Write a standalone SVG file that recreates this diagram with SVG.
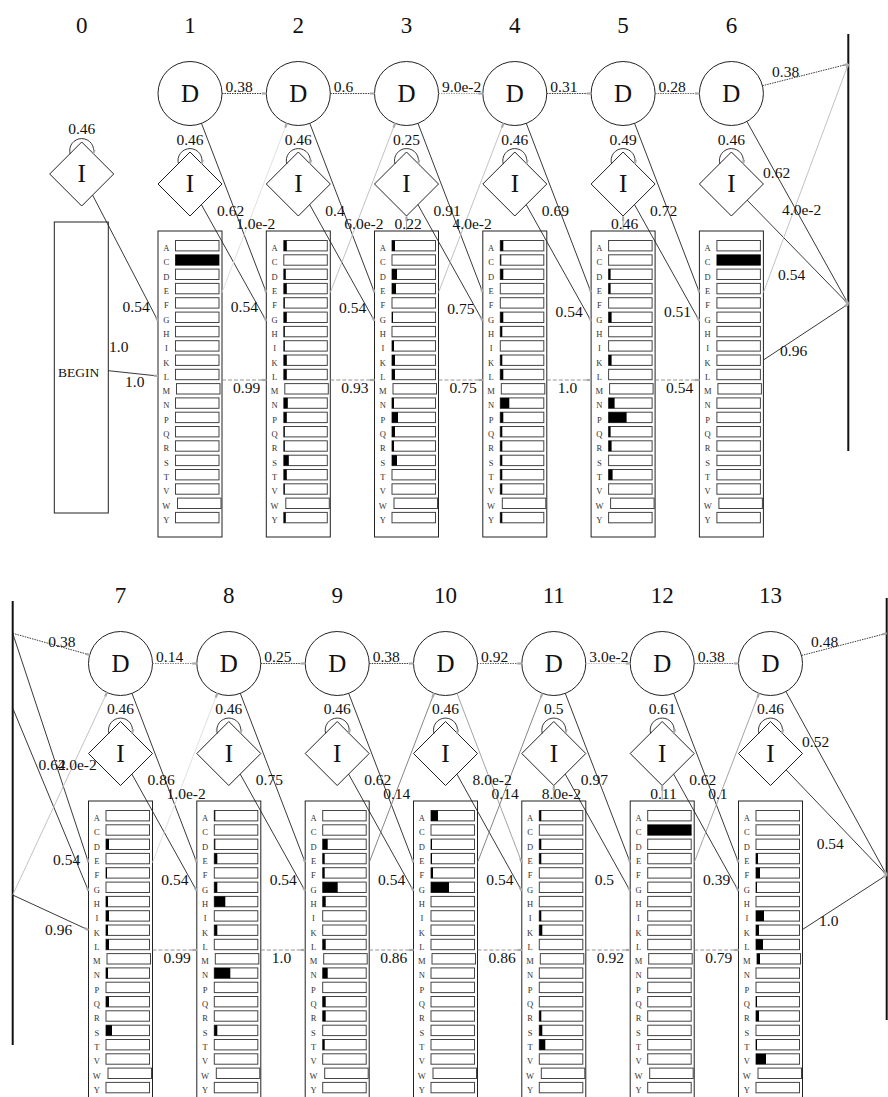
<svg xmlns="http://www.w3.org/2000/svg" xmlns:xlink="http://www.w3.org/1999/xlink" width="888" height="1097" viewBox="0 0 888 1097">
<style>
text{font-family:"Liberation Serif","Times New Roman",Times,"DejaVu Serif",serif}
.n{fill:#fff;stroke:#222;stroke-width:1}
.nt{font-size:25px;text-anchor:middle;fill:#111}
.num{font-size:23px;text-anchor:middle;fill:#111}
.l{font-size:15.5px;fill:#111}
.c{text-anchor:middle}
.a{font-size:8.5px;text-anchor:middle;fill:#333}
.bx{fill:#fff;stroke:#222;stroke-width:1}
.b{fill:#fff;stroke:#444;stroke-width:1}
.k{fill:#000}
.e{fill:none;stroke:#222;stroke-width:0.9;marker-end:url(#h)}
.dd{stroke-dasharray:1.5 1}
.mm{stroke:#888;stroke-dasharray:4 2}
.g1{stroke:#ddd}.g2{stroke:#bbb}.g3{stroke:#999}.g4{stroke:#777}.g5{stroke:#555}
.bar{stroke:#111;stroke-width:2;fill:none}
</style>
<defs>
<marker id="h" markerUnits="userSpaceOnUse" markerWidth="6" markerHeight="4" viewBox="-5 -2 6 4" refX="0" refY="0" orient="auto"><path d="M-4.5,0H0" stroke="#aaa" stroke-width="2.2" fill="none"/></marker>
<!-- match-state emission column: frame, residue letters and empty bars -->
<g id="mcol">
<rect class="bx" x="0" y="0" width="64" height="306"/>
<text class="a" x="8.3" y="20">A</text><text class="a" x="8.3" y="34.3">C</text><text class="a" x="8.3" y="48.6">D</text><text class="a" x="8.3" y="62.9">E</text><text class="a" x="8.3" y="77.2">F</text><text class="a" x="8.3" y="91.6">G</text><text class="a" x="8.3" y="105.9">H</text><text class="a" x="8.3" y="120.2">I</text><text class="a" x="8.3" y="134.5">K</text><text class="a" x="8.3" y="148.8">L</text><text class="a" x="8.3" y="163.1">M</text><text class="a" x="8.3" y="177.4">N</text><text class="a" x="8.3" y="191.7">P</text><text class="a" x="8.3" y="206">Q</text><text class="a" x="8.3" y="220.3">R</text><text class="a" x="8.3" y="234.7">S</text><text class="a" x="8.3" y="249">T</text><text class="a" x="8.3" y="263.3">V</text><text class="a" x="8.3" y="277.6">W</text><text class="a" x="8.3" y="291.9">Y</text>
<rect class="b" x="17.5" y="9.5" width="43.5" height="10.4"/><rect class="b" x="17.5" y="23.8" width="43.5" height="10.4"/><rect class="b" x="17.5" y="38.1" width="43.5" height="10.4"/><rect class="b" x="17.5" y="52.4" width="43.5" height="10.4"/><rect class="b" x="17.5" y="66.7" width="43.5" height="10.4"/><rect class="b" x="17.5" y="81.1" width="43.5" height="10.4"/><rect class="b" x="17.5" y="95.4" width="43.5" height="10.4"/><rect class="b" x="17.5" y="109.7" width="43.5" height="10.4"/><rect class="b" x="17.5" y="124" width="43.5" height="10.4"/><rect class="b" x="17.5" y="138.3" width="43.5" height="10.4"/><rect class="b" x="18.5" y="152.6" width="43.5" height="10.4"/><rect class="b" x="17.5" y="166.9" width="43.5" height="10.4"/><rect class="b" x="17.5" y="181.2" width="43.5" height="10.4"/><rect class="b" x="17.5" y="195.5" width="43.5" height="10.4"/><rect class="b" x="17.5" y="209.8" width="43.5" height="10.4"/><rect class="b" x="17.5" y="224.2" width="43.5" height="10.4"/><rect class="b" x="17.5" y="238.5" width="43.5" height="10.4"/><rect class="b" x="17.5" y="252.8" width="43.5" height="10.4"/><rect class="b" x="19.5" y="267.1" width="43.5" height="10.4"/><rect class="b" x="17.5" y="281.4" width="43.5" height="10.4"/>
</g>
</defs>
<rect width="888" height="1097" fill="#fff"/>

<!-- column numbers -->
<g id="numbers">
<text class="num" x="81.7" y="32.5">0</text><text class="num" x="190" y="32.5">1</text><text class="num" x="298.3" y="32.5">2</text><text class="num" x="406.5" y="32.5">3</text><text class="num" x="514.8" y="32.5">4</text><text class="num" x="623.1" y="32.5">5</text><text class="num" x="731.4" y="32.5">6</text>
<text class="num" x="120.5" y="602.5">7</text><text class="num" x="228.8" y="602.5">8</text><text class="num" x="337.2" y="602.5">9</text><text class="num" x="445.5" y="602.5">10</text><text class="num" x="553.8" y="602.5">11</text><text class="num" x="662.2" y="602.5">12</text><text class="num" x="770.5" y="602.5">13</text>
</g>

<!-- begin state and wrap bars -->
<g id="BEGIN"><rect class="bx" x="54.3" y="222" width="54" height="291"/><text x="58" y="376.5" style="font-size:13.5px;fill:#111">BEGIN</text></g>
<g id="wrap-top-right"><line class="bar" x1="848.3" y1="34" x2="848.3" y2="451"/></g>
<g id="wrap-bottom-left"><line class="bar" x1="12.7" y1="601" x2="12.7" y2="1045"/></g>
<g id="wrap-bottom-right"><line class="bar" x1="886.7" y1="598" x2="886.7" y2="1020"/></g>

<!-- delete states -->
<g id="D1"><circle class="n" cx="190" cy="93.5" r="32"/><text class="nt" x="190" y="101.5">D</text></g>
<g id="D2"><circle class="n" cx="298.3" cy="93.5" r="32"/><text class="nt" x="298.3" y="101.5">D</text></g>
<g id="D3"><circle class="n" cx="406.5" cy="93.5" r="32"/><text class="nt" x="406.5" y="101.5">D</text></g>
<g id="D4"><circle class="n" cx="514.8" cy="93.5" r="32"/><text class="nt" x="514.8" y="101.5">D</text></g>
<g id="D5"><circle class="n" cx="623.1" cy="93.5" r="32"/><text class="nt" x="623.1" y="101.5">D</text></g>
<g id="D6"><circle class="n" cx="731.4" cy="93.5" r="32"/><text class="nt" x="731.4" y="101.5">D</text></g>
<g id="D7"><circle class="n" cx="120.5" cy="663.5" r="32"/><text class="nt" x="120.5" y="671.5">D</text></g>
<g id="D8"><circle class="n" cx="228.8" cy="663.5" r="32"/><text class="nt" x="228.8" y="671.5">D</text></g>
<g id="D9"><circle class="n" cx="337.2" cy="663.5" r="32"/><text class="nt" x="337.2" y="671.5">D</text></g>
<g id="D10"><circle class="n" cx="445.5" cy="663.5" r="32"/><text class="nt" x="445.5" y="671.5">D</text></g>
<g id="D11"><circle class="n" cx="553.8" cy="663.5" r="32"/><text class="nt" x="553.8" y="671.5">D</text></g>
<g id="D12"><circle class="n" cx="662.2" cy="663.5" r="32"/><text class="nt" x="662.2" y="671.5">D</text></g>
<g id="D13"><circle class="n" cx="770.5" cy="663.5" r="32"/><text class="nt" x="770.5" y="671.5">D</text></g>

<!-- insert states -->
<g id="I0"><polygon class="n" points="81.7,142 113.7,174 81.7,206 49.7,174"/><text class="nt" x="81.7" y="182.3">I</text></g>
<g id="I1"><polygon class="n" points="190,152 222,184 190,216 158,184"/><text class="nt" x="190" y="192.3">I</text></g>
<g id="I2"><polygon class="n" points="298.3,152 330.3,184 298.3,216 266.3,184"/><text class="nt" x="298.3" y="192.3">I</text></g>
<g id="I3"><polygon class="n" points="406.5,152 438.5,184 406.5,216 374.5,184"/><text class="nt" x="406.5" y="192.3">I</text></g>
<g id="I4"><polygon class="n" points="514.8,152 546.8,184 514.8,216 482.8,184"/><text class="nt" x="514.8" y="192.3">I</text></g>
<g id="I5"><polygon class="n" points="623.1,152 655.1,184 623.1,216 591.1,184"/><text class="nt" x="623.1" y="192.3">I</text></g>
<g id="I6"><polygon class="n" points="731.4,152 763.4,184 731.4,216 699.4,184"/><text class="nt" x="731.4" y="192.3">I</text></g>
<g id="I7"><polygon class="n" points="120.5,721.5 152.5,753.5 120.5,785.5 88.5,753.5"/><text class="nt" x="120.5" y="761.8">I</text></g>
<g id="I8"><polygon class="n" points="228.8,721.5 260.8,753.5 228.8,785.5 196.8,753.5"/><text class="nt" x="228.8" y="761.8">I</text></g>
<g id="I9"><polygon class="n" points="337.2,721.5 369.2,753.5 337.2,785.5 305.2,753.5"/><text class="nt" x="337.2" y="761.8">I</text></g>
<g id="I10"><polygon class="n" points="445.5,721.5 477.5,753.5 445.5,785.5 413.5,753.5"/><text class="nt" x="445.5" y="761.8">I</text></g>
<g id="I11"><polygon class="n" points="553.8,721.5 585.8,753.5 553.8,785.5 521.8,753.5"/><text class="nt" x="553.8" y="761.8">I</text></g>
<g id="I12"><polygon class="n" points="662.2,721.5 694.2,753.5 662.2,785.5 630.2,753.5"/><text class="nt" x="662.2" y="761.8">I</text></g>
<g id="I13"><polygon class="n" points="770.5,721.5 802.5,753.5 770.5,785.5 738.5,753.5"/><text class="nt" x="770.5" y="761.8">I</text></g>

<!-- match states with emission bars -->
<g id="M1" transform="translate(158,231)"><use xlink:href="#mcol" href="#mcol"/><rect class="k" x="17.5" y="23.8" width="43.5" height="10.4"/></g>
<g id="M2" transform="translate(266.3,231)"><use xlink:href="#mcol" href="#mcol"/>
<rect class="k" x="17.5" y="9.5" width="3" height="10.4"/><rect class="k" x="17.5" y="38.1" width="2" height="10.4"/><rect class="k" x="17.5" y="52.4" width="3" height="10.4"/><rect class="k" x="17.5" y="66.7" width="1" height="10.4"/><rect class="k" x="17.5" y="81.1" width="3" height="10.4"/><rect class="k" x="17.5" y="95.4" width="1" height="10.4"/><rect class="k" x="17.5" y="109.7" width="1" height="10.4"/><rect class="k" x="17.5" y="124" width="3" height="10.4"/><rect class="k" x="17.5" y="138.3" width="3" height="10.4"/><rect class="k" x="17.5" y="166.9" width="4" height="10.4"/><rect class="k" x="17.5" y="181.2" width="3" height="10.4"/><rect class="k" x="17.5" y="195.5" width="1" height="10.4"/><rect class="k" x="17.5" y="209.8" width="1" height="10.4"/><rect class="k" x="17.5" y="224.2" width="5" height="10.4"/><rect class="k" x="17.5" y="238.5" width="3" height="10.4"/><rect class="k" x="17.5" y="252.8" width="1" height="10.4"/><rect class="k" x="17.5" y="281.4" width="2" height="10.4"/></g>
<g id="M3" transform="translate(374.5,231)"><use xlink:href="#mcol" href="#mcol"/>
<rect class="k" x="17.5" y="9.5" width="3" height="10.4"/><rect class="k" x="17.5" y="38.1" width="5" height="10.4"/><rect class="k" x="17.5" y="52.4" width="4" height="10.4"/><rect class="k" x="17.5" y="81.1" width="1" height="10.4"/><rect class="k" x="17.5" y="109.7" width="2" height="10.4"/><rect class="k" x="17.5" y="124" width="3" height="10.4"/><rect class="k" x="17.5" y="138.3" width="3" height="10.4"/><rect class="k" x="17.5" y="166.9" width="2" height="10.4"/><rect class="k" x="17.5" y="181.2" width="6" height="10.4"/><rect class="k" x="17.5" y="195.5" width="3" height="10.4"/><rect class="k" x="17.5" y="209.8" width="2" height="10.4"/><rect class="k" x="17.5" y="224.2" width="5" height="10.4"/></g>
<g id="M4" transform="translate(482.8,231)"><use xlink:href="#mcol" href="#mcol"/>
<rect class="k" x="17.5" y="9.5" width="3" height="10.4"/><rect class="k" x="17.5" y="23.8" width="1" height="10.4"/><rect class="k" x="17.5" y="38.1" width="3" height="10.4"/><rect class="k" x="17.5" y="81.1" width="3" height="10.4"/><rect class="k" x="17.5" y="95.4" width="2" height="10.4"/><rect class="k" x="17.5" y="124" width="2" height="10.4"/><rect class="k" x="17.5" y="138.3" width="3" height="10.4"/><rect class="k" x="17.5" y="166.9" width="9" height="10.4"/><rect class="k" x="17.5" y="181.2" width="3" height="10.4"/><rect class="k" x="17.5" y="195.5" width="2" height="10.4"/><rect class="k" x="17.5" y="209.8" width="2" height="10.4"/><rect class="k" x="17.5" y="224.2" width="2" height="10.4"/><rect class="k" x="17.5" y="238.5" width="2" height="10.4"/><rect class="k" x="17.5" y="252.8" width="2" height="10.4"/><rect class="k" x="17.5" y="281.4" width="2" height="10.4"/></g>
<g id="M5" transform="translate(591.1,231)"><use xlink:href="#mcol" href="#mcol"/>
<rect class="k" x="17.5" y="38.1" width="2" height="10.4"/><rect class="k" x="17.5" y="52.4" width="2" height="10.4"/><rect class="k" x="17.5" y="81.1" width="3" height="10.4"/><rect class="k" x="17.5" y="124" width="3" height="10.4"/><rect class="k" x="17.5" y="166.9" width="6" height="10.4"/><rect class="k" x="17.5" y="181.2" width="18" height="10.4"/><rect class="k" x="17.5" y="195.5" width="2" height="10.4"/><rect class="k" x="17.5" y="209.8" width="3" height="10.4"/><rect class="k" x="17.5" y="238.5" width="4" height="10.4"/></g>
<g id="M6" transform="translate(699.4,231)"><use xlink:href="#mcol" href="#mcol"/><rect class="k" x="17.5" y="23.8" width="43.5" height="10.4"/></g>
<g id="M7" transform="translate(88.5,801)"><use xlink:href="#mcol" href="#mcol"/>
<rect class="k" x="17.5" y="38.1" width="3" height="10.4"/><rect class="k" x="17.5" y="66.7" width="1" height="10.4"/><rect class="k" x="17.5" y="95.4" width="2" height="10.4"/><rect class="k" x="17.5" y="109.7" width="3" height="10.4"/><rect class="k" x="17.5" y="124" width="2" height="10.4"/><rect class="k" x="17.5" y="138.3" width="3" height="10.4"/><rect class="k" x="17.5" y="166.9" width="2" height="10.4"/><rect class="k" x="17.5" y="195.5" width="3" height="10.4"/><rect class="k" x="17.5" y="224.2" width="6" height="10.4"/></g>
<g id="M8" transform="translate(196.8,801)"><use xlink:href="#mcol" href="#mcol"/>
<rect class="k" x="17.5" y="9.5" width="1" height="10.4"/><rect class="k" x="17.5" y="38.1" width="1" height="10.4"/><rect class="k" x="17.5" y="52.4" width="3" height="10.4"/><rect class="k" x="17.5" y="81.1" width="3" height="10.4"/><rect class="k" x="17.5" y="95.4" width="11" height="10.4"/><rect class="k" x="17.5" y="124" width="3" height="10.4"/><rect class="k" x="17.5" y="166.9" width="16" height="10.4"/><rect class="k" x="17.5" y="224.2" width="3" height="10.4"/></g>
<g id="M9" transform="translate(305.2,801)"><use xlink:href="#mcol" href="#mcol"/>
<rect class="k" x="17.5" y="38.1" width="5" height="10.4"/><rect class="k" x="17.5" y="52.4" width="2" height="10.4"/><rect class="k" x="17.5" y="66.7" width="2" height="10.4"/><rect class="k" x="17.5" y="81.1" width="15" height="10.4"/><rect class="k" x="17.5" y="95.4" width="3" height="10.4"/><rect class="k" x="17.5" y="138.3" width="3" height="10.4"/><rect class="k" x="17.5" y="166.9" width="5" height="10.4"/><rect class="k" x="17.5" y="195.5" width="3" height="10.4"/><rect class="k" x="17.5" y="209.8" width="3" height="10.4"/><rect class="k" x="17.5" y="238.5" width="2" height="10.4"/></g>
<g id="M10" transform="translate(413.5,801)"><use xlink:href="#mcol" href="#mcol"/>
<rect class="k" x="17.5" y="9.5" width="7" height="10.4"/><rect class="k" x="17.5" y="38.1" width="1" height="10.4"/><rect class="k" x="17.5" y="52.4" width="1" height="10.4"/><rect class="k" x="17.5" y="66.7" width="2" height="10.4"/><rect class="k" x="17.5" y="81.1" width="18" height="10.4"/></g>
<g id="M11" transform="translate(521.8,801)"><use xlink:href="#mcol" href="#mcol"/>
<rect class="k" x="17.5" y="9.5" width="2" height="10.4"/><rect class="k" x="17.5" y="38.1" width="2" height="10.4"/><rect class="k" x="17.5" y="52.4" width="2" height="10.4"/><rect class="k" x="17.5" y="109.7" width="2" height="10.4"/><rect class="k" x="17.5" y="124" width="3" height="10.4"/><rect class="k" x="17.5" y="209.8" width="2" height="10.4"/><rect class="k" x="17.5" y="224.2" width="3" height="10.4"/><rect class="k" x="17.5" y="238.5" width="6" height="10.4"/></g>
<g id="M12" transform="translate(630.2,801)"><use xlink:href="#mcol" href="#mcol"/><rect class="k" x="17.5" y="23.8" width="43.5" height="10.4"/></g>
<g id="M13" transform="translate(738.5,801)"><use xlink:href="#mcol" href="#mcol"/>
<rect class="k" x="17.5" y="52.4" width="2" height="10.4"/><rect class="k" x="17.5" y="66.7" width="4" height="10.4"/><rect class="k" x="17.5" y="81.1" width="1" height="10.4"/><rect class="k" x="17.5" y="109.7" width="8" height="10.4"/><rect class="k" x="17.5" y="124" width="3" height="10.4"/><rect class="k" x="17.5" y="138.3" width="7" height="10.4"/><rect class="k" x="18.5" y="152.6" width="3" height="10.4"/><rect class="k" x="17.5" y="195.5" width="1" height="10.4"/><rect class="k" x="17.5" y="209.8" width="3" height="10.4"/><rect class="k" x="17.5" y="238.5" width="1" height="10.4"/><rect class="k" x="17.5" y="252.8" width="10" height="10.4"/></g>

<!-- transitions -->
<g id="connectors">
<!-- row 0-6 -->
<line class="e" x1="108.3" y1="370.7" x2="158" y2="376"/>
<path class="e" d="M70.2,154 A12 12 0 1 1 93.2,154"/>
<path class="e" d="M178.5,164 A12 12 0 1 1 201.5,164"/>
<path class="e" d="M286.8,164 A12 12 0 1 1 309.8,164"/>
<path class="e" d="M395,164 A12 12 0 1 1 418,164"/>
<path class="e" d="M503.3,164 A12 12 0 1 1 526.3,164"/>
<path class="e" d="M611.6,164 A12 12 0 1 1 634.6,164"/>
<path class="e" d="M719.9,164 A12 12 0 1 1 742.9,164"/>
<line class="e dd" x1="222" y1="93.5" x2="266.3" y2="93.5"/>
<line class="e dd" x1="330.3" y1="93.5" x2="374.5" y2="93.5"/>
<line class="e dd g3" x1="438.5" y1="93.5" x2="482.8" y2="93.5"/>
<line class="e dd" x1="546.8" y1="93.5" x2="591.1" y2="93.5"/>
<line class="e dd g5" x1="655.1" y1="93.5" x2="699.4" y2="93.5"/>
<line class="e dd" x1="762.4" y1="85.7" x2="848.3" y2="64"/>
<line class="e" x1="201.5" y1="123.4" x2="266.3" y2="292.5"/>
<line class="e" x1="309.8" y1="123.4" x2="374.5" y2="292.5"/>
<line class="e" x1="418" y1="123.4" x2="482.8" y2="292.5"/>
<line class="e" x1="526.3" y1="123.4" x2="591.1" y2="292.5"/>
<line class="e" x1="634.6" y1="123.4" x2="699.4" y2="292.5"/>
<line class="e" x1="746.9" y1="121.5" x2="848.3" y2="304"/>
<line class="e" x1="92.6" y1="195.1" x2="158" y2="321"/>
<line class="e" x1="201.4" y1="204.6" x2="266.3" y2="321"/>
<line class="e" x1="309.7" y1="204.6" x2="374.5" y2="321"/>
<line class="e" x1="417.9" y1="204.6" x2="482.8" y2="321"/>
<line class="e" x1="526.2" y1="204.6" x2="591.1" y2="321"/>
<line class="e" x1="634.5" y1="204.6" x2="699.4" y2="321"/>
<line class="e" x1="747.2" y1="200.2" x2="848.3" y2="304"/>
<line class="e g1" x1="222" y1="292.5" x2="286.8" y2="123.4"/>
<line class="e g2" x1="330.3" y1="292.5" x2="395.1" y2="123.4"/>
<line class="e g2" x1="438.5" y1="292.5" x2="503.4" y2="123.4"/>
<line class="e g2" x1="763.4" y1="292.5" x2="848.3" y2="64"/>
<line class="e g3" x1="406.5" y1="231" x2="406.5" y2="216.5"/>
<line class="e g3" x1="623.1" y1="231" x2="623.1" y2="216.5"/>
<line class="e mm" x1="222" y1="380" x2="266.3" y2="380"/>
<line class="e mm" x1="330.3" y1="380" x2="374.5" y2="380"/>
<line class="e mm" x1="438.5" y1="380" x2="482.8" y2="380"/>
<line class="e mm" x1="546.8" y1="380" x2="591.1" y2="380"/>
<line class="e mm" x1="655.1" y1="380" x2="699.4" y2="380"/>
<line class="e" x1="763.4" y1="360" x2="848.3" y2="304"/>
<!-- row 7-13 -->
<path class="e" d="M109,733.5 A12 12 0 1 1 132,733.5"/>
<path class="e" d="M217.3,733.5 A12 12 0 1 1 240.3,733.5"/>
<path class="e" d="M325.7,733.5 A12 12 0 1 1 348.7,733.5"/>
<path class="e" d="M434,733.5 A12 12 0 1 1 457,733.5"/>
<path class="e" d="M542.3,733.5 A12 12 0 1 1 565.3,733.5"/>
<path class="e" d="M650.7,733.5 A12 12 0 1 1 673.7,733.5"/>
<path class="e" d="M759,733.5 A12 12 0 1 1 782,733.5"/>
<line class="e dd" x1="12.7" y1="633.3" x2="89.7" y2="654.9"/>
<line class="e dd g4" x1="152.5" y1="663.5" x2="196.8" y2="663.5"/>
<line class="e dd" x1="260.8" y1="663.5" x2="305.2" y2="663.5"/>
<line class="e dd" x1="369.2" y1="663.5" x2="413.5" y2="663.5"/>
<line class="e dd g5" x1="477.5" y1="663.5" x2="521.8" y2="663.5"/>
<line class="e dd g2" x1="585.8" y1="663.5" x2="630.2" y2="663.5"/>
<line class="e dd g5" x1="694.2" y1="663.5" x2="738.5" y2="663.5"/>
<line class="e dd" x1="801.5" y1="655.5" x2="886.7" y2="633.3"/>
<line class="e" x1="12.7" y1="633.3" x2="88.5" y2="862.5"/>
<line class="e" x1="132" y1="693.4" x2="196.8" y2="862.5"/>
<line class="e" x1="240.3" y1="693.4" x2="305.2" y2="862.5"/>
<line class="e" x1="348.7" y1="693.4" x2="413.5" y2="862.5"/>
<line class="e g3" x1="457" y1="693.4" x2="521.8" y2="862.5"/>
<line class="e" x1="565.3" y1="693.4" x2="630.2" y2="862.5"/>
<line class="e" x1="673.7" y1="693.4" x2="738.5" y2="862.5"/>
<line class="e" x1="785.9" y1="691.5" x2="886.7" y2="875"/>
<line class="e" x1="12.7" y1="708" x2="88.5" y2="891"/>
<line class="e" x1="131.9" y1="774.1" x2="196.8" y2="891"/>
<line class="e" x1="240.2" y1="774.1" x2="305.2" y2="891"/>
<line class="e" x1="348.6" y1="774.1" x2="413.5" y2="891"/>
<line class="e" x1="456.9" y1="774.1" x2="521.8" y2="891"/>
<line class="e" x1="565.2" y1="774.1" x2="630.2" y2="891"/>
<line class="e" x1="673.6" y1="774.1" x2="738.5" y2="891"/>
<line class="e" x1="786.1" y1="769.9" x2="886.7" y2="875"/>
<line class="e g2" x1="12.7" y1="895" x2="107" y2="692.5"/>
<line class="e g1" x1="152.5" y1="862.5" x2="217.3" y2="693.4"/>
<line class="e g4" x1="369.2" y1="862.5" x2="434" y2="693.4"/>
<line class="e g4" x1="477.5" y1="862.5" x2="542.3" y2="693.4"/>
<line class="e g3" x1="694.2" y1="862.5" x2="759" y2="693.4"/>
<line class="e g3" x1="553.8" y1="801" x2="553.8" y2="786"/>
<line class="e g3" x1="662.2" y1="801" x2="662.2" y2="786"/>
<line class="e" x1="12.7" y1="895" x2="88.5" y2="930"/>
<line class="e mm" x1="152.5" y1="950" x2="196.8" y2="950"/>
<line class="e mm" x1="260.8" y1="950" x2="305.2" y2="950"/>
<line class="e mm" x1="369.2" y1="950" x2="413.5" y2="950"/>
<line class="e mm" x1="477.5" y1="950" x2="521.8" y2="950"/>
<line class="e mm" x1="585.8" y1="950" x2="630.2" y2="950"/>
<line class="e mm" x1="694.2" y1="950" x2="738.5" y2="950"/>
<line class="e" x1="802.5" y1="929.5" x2="886.7" y2="875"/>

<!-- transition probabilities, row 0-6 -->
<text class="l" x="109" y="352">1.0</text>
<text class="l" x="125" y="386.7">1.0</text>
<text class="l c" x="81.7" y="133.5">0.46</text>
<text class="l c" x="190" y="144.5">0.46</text>
<text class="l c" x="298.3" y="144.5">0.46</text>
<text class="l c" x="406.5" y="144.5">0.25</text>
<text class="l c" x="514.8" y="144.5">0.46</text>
<text class="l c" x="623.1" y="144.5">0.49</text>
<text class="l c" x="731.4" y="144.5">0.46</text>
<text class="l" x="225.5" y="92">0.38</text>
<text class="l" x="333.8" y="92">0.6</text>
<text class="l" x="442" y="92">9.0e-2</text>
<text class="l" x="550.3" y="92">0.31</text>
<text class="l" x="658.6" y="92">0.28</text>
<text class="l" x="772" y="77">0.38</text>
<text class="l" x="217" y="215.5">0.62</text>
<text class="l" x="325.3" y="215.5">0.4</text>
<text class="l" x="433.5" y="215.5">0.91</text>
<text class="l" x="541.8" y="215.5">0.69</text>
<text class="l" x="650.1" y="215.5">0.72</text>
<text class="l" x="763" y="178">0.62</text>
<text class="l" x="236" y="228.5">1.0e-2</text>
<text class="l" x="344.3" y="228.5">6.0e-2</text>
<text class="l" x="452.5" y="228.5">4.0e-2</text>
<text class="l" x="782" y="215">4.0e-2</text>
<text class="l" x="394.5" y="229">0.22</text>
<text class="l" x="611.1" y="229">0.46</text>
<text class="l" x="122.5" y="312">0.54</text>
<text class="l" x="230.8" y="312">0.54</text>
<text class="l" x="339" y="313">0.54</text>
<text class="l" x="447.3" y="314">0.75</text>
<text class="l" x="555.6" y="316.5">0.54</text>
<text class="l" x="663.9" y="316.5">0.51</text>
<text class="l" x="778" y="280">0.54</text>
<text class="l" x="233" y="393">0.99</text>
<text class="l" x="341.3" y="393">0.93</text>
<text class="l" x="449.5" y="393">0.75</text>
<text class="l" x="557.8" y="393">1.0</text>
<text class="l" x="666.1" y="393">0.54</text>
<text class="l" x="780" y="356">0.96</text>
<!-- transition probabilities, row 7-13 -->
<text class="l" x="48.3" y="647">0.38</text>
<text class="l" x="38.5" y="770">0.62</text>
<text class="l" x="57.5" y="770">4.0e-2</text>
<text class="l" x="53" y="865">0.54</text>
<text class="l" x="45" y="935">0.96</text>
<text class="l c" x="120.5" y="714">0.46</text>
<text class="l c" x="228.8" y="714">0.46</text>
<text class="l c" x="337.2" y="714">0.46</text>
<text class="l c" x="445.5" y="714">0.46</text>
<text class="l c" x="553.8" y="714">0.5</text>
<text class="l c" x="662.2" y="714">0.61</text>
<text class="l c" x="770.5" y="714">0.46</text>
<text class="l" x="156" y="662">0.14</text>
<text class="l" x="264.3" y="662">0.25</text>
<text class="l" x="372.7" y="662">0.38</text>
<text class="l" x="481" y="662">0.92</text>
<text class="l" x="589.3" y="662">3.0e-2</text>
<text class="l" x="697.7" y="662">0.38</text>
<text class="l" x="811" y="647">0.48</text>
<text class="l" x="147.5" y="785">0.86</text>
<text class="l" x="255.8" y="785">0.75</text>
<text class="l" x="364.2" y="785">0.62</text>
<text class="l" x="472.5" y="785">8.0e-2</text>
<text class="l" x="580.8" y="785">0.97</text>
<text class="l" x="689.2" y="785">0.62</text>
<text class="l" x="802" y="747">0.52</text>
<text class="l" x="166.5" y="799">1.0e-2</text>
<text class="l" x="383.2" y="799">0.14</text>
<text class="l" x="491.5" y="799">0.14</text>
<text class="l" x="708.2" y="799">0.1</text>
<text class="l" x="541.8" y="799">8.0e-2</text>
<text class="l" x="650.2" y="799">0.11</text>
<text class="l" x="161.3" y="885">0.54</text>
<text class="l" x="269.7" y="885">0.54</text>
<text class="l" x="378" y="885">0.54</text>
<text class="l" x="486.3" y="885">0.54</text>
<text class="l" x="594.7" y="885">0.5</text>
<text class="l" x="703" y="885">0.39</text>
<text class="l" x="816.7" y="849">0.54</text>
<text class="l" x="163.5" y="963">0.99</text>
<text class="l" x="271.8" y="963">1.0</text>
<text class="l" x="380.2" y="963">0.86</text>
<text class="l" x="488.5" y="963">0.86</text>
<text class="l" x="596.8" y="963">0.92</text>
<text class="l" x="705.2" y="963">0.79</text>
<text class="l" x="819" y="926">1.0</text>
</g>
</svg>
